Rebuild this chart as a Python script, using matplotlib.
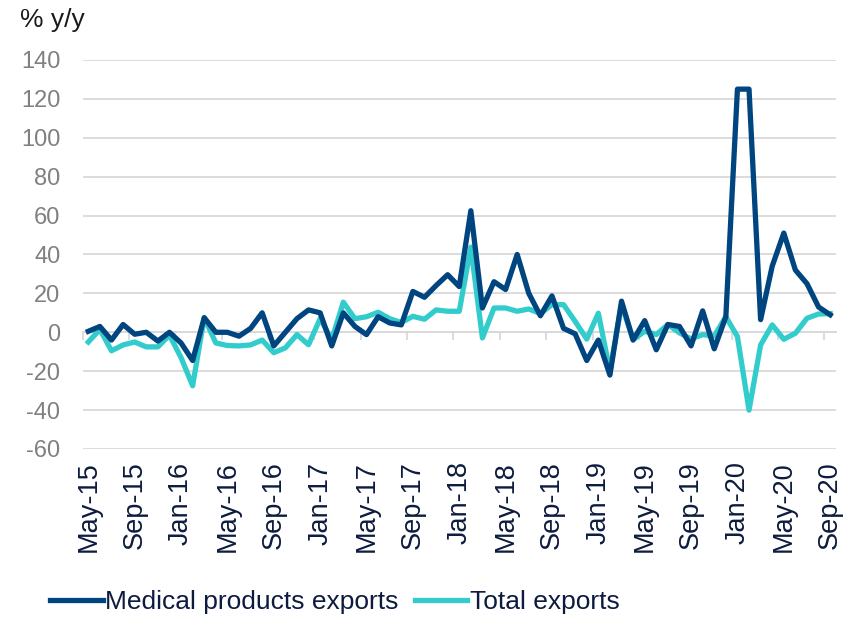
import numpy as np
import matplotlib
matplotlib.use("Agg")
import matplotlib.pyplot as plt

plt.rcParams['font.family'] = ['Liberation Sans', 'DejaVu Sans']
plt.rcParams['axes.unicode_minus'] = False

# monthly, May-15 .. Sep-20
years = list(range(2015, 2021))
month_names = ['Jan', 'Feb', 'Mar', 'Apr', 'May', 'Jun',
               'Jul', 'Aug', 'Sep', 'Oct', 'Nov', 'Dec']
labels = []
for y in years:
    for m in month_names:
        labels.append(f"{m}-{str(y)[2:]}")
labels = labels[labels.index('May-15'):labels.index('Sep-20') + 1]

medical = [0.5, 3, -4, 4, -1, 0, -4.5, 0, -5.5, -14.5,
           7.5, 0, 0, -2, 2, 10, -7, 0, 7, 11.5,
           10, -7, 10, 3, -1.2, 8, 4.8, 3.8, 21, 18,
           24, 29.6, 23.5, 62.5, 12.5, 26, 22, 40, 20, 8.5,
           18.7, 2, -0.8, -14.5, -4, -22, 16, -4, 6, -9,
           4, 3, -7, 11, -8.5, 8, 125, 125, 6.5, 34,
           51, 32, 25, 13, 9]
total = [-5, 1.5, -9.5, -6.5, -5, -7.5, -7.5, -1.5, -13, -27.5,
         7.5, -5.5, -6.8, -7, -6.5, -4, -10.5, -8, -1.2, -6.4,
         7, -3.8, 15.5, 7, 8, 10.3, 7, 5, 8.2, 6.7,
         11.5, 10.8, 10.8, 43.8, -2.9, 12.5, 12.5, 10.8, 12, 9.6,
         14.2, 14.2, 5.6, -3.5, 9.8, -20, 14.3, -3.8, 0.5, -1.2,
         4, -0.3, -3.4, -1.2, -1.9, 8, -2.2, -40, -6.5, 3.8,
         -3.6, -0.5, 7.2, 9.4, 9.6]

navy = '#00457f'
teal = '#33cccc'
grid_c = '#d9d9d9'
text_c = '#0d1b3e'

fig = plt.figure(figsize=(8.48, 6.17), dpi=100)
ax = fig.add_axes([0.0973, 0.2723, 0.8885, 0.6305])

x = np.arange(len(labels))
ax.plot(x, medical, color=navy, lw=3.8, label='Medical products exports', zorder=3)
ax.plot(x, total, color=teal, lw=3.8, label='Total exports', zorder=2)

ax.set_xlim(-0.5, len(labels) - 0.5)
ax.set_ylim(-60, 140)
ax.set_yticks(np.arange(-60, 141, 20))
ax.yaxis.grid(True, color=grid_c, lw=1.3)
ax.set_axisbelow(True)
for s in ax.spines.values():
    s.set_visible(False)
ax.tick_params(axis='y', length=0, pad=16, labelsize=17, labelcolor='#808080')

ax.set_xticks(x[::4])
ax.set_xticklabels(labels[::4], rotation=90)
ax.tick_params(axis='x', length=0, pad=9, labelsize=19.5, labelcolor=text_c)

# horizontal axis drawn at zero with tick marks between categories
zero = ax.secondary_xaxis(60 / 200)
zero.set_xticks(np.arange(-0.5, len(labels), 4))
zero.tick_params(axis='x', length=6, width=1.3, color=grid_c, labelbottom=False)
zero.spines['bottom'].set_color(grid_c)
zero.spines['bottom'].set_linewidth(1.3)

fig.text(0.023, 0.968, '% y/y', fontsize=19, color='#1a1a1a', va='center', ha='left')

fig.legend(loc='center', bbox_to_anchor=(0.395, 0.024), ncol=2, frameon=False,
           fontsize=19, handlelength=2.0, handletextpad=0.1, columnspacing=0.6,
           labelcolor=text_c, borderaxespad=0)

fig.savefig('out.png', dpi=100)
